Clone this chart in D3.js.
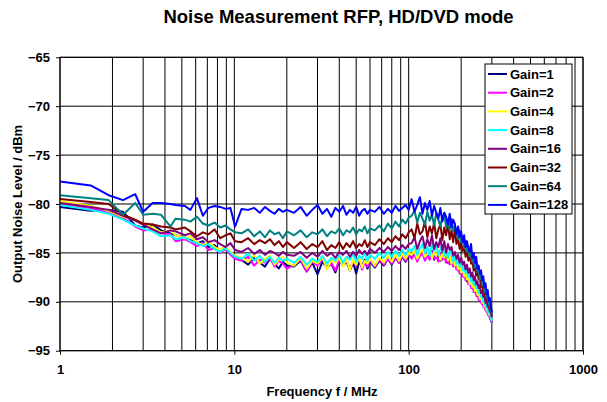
<!DOCTYPE html>
<html>
<head>
<meta charset="utf-8">
<script src="https://cdn.jsdelivr.net/npm/d3@7"></script>
<style>
    body { margin: 0; background: #fff; }
    text { font-family: "Liberation Sans", Arial, sans-serif; font-weight: bold; fill: #000; }
</style>
</head>
<body>
<svg id="chart" width="607" height="402"></svg>
<script>
    // frequency grid (MHz)
    var freq = [1, 1.5, 1.9, 2.3, 2.7, 3.0, 3.4, 3.8, 4.3, 4.6, 5.2, 5.6, 6.1, 6.6, 7.1, 7.7, 8.3, 8.9, 9.5, 10.1,
        11, 12, 13, 14, 15, 16, 17, 18, 19, 20,
        22, 24, 26, 28, 30, 32, 34, 36, 38, 40, 42, 44, 46, 48, 50, 52, 54, 56, 58, 60,
        64, 68, 72, 76, 80, 84, 88, 92, 96, 100,
        104, 108, 112, 116, 120, 124, 128, 132, 136, 140, 144, 148, 152, 156, 160, 164, 168, 172, 176, 180,
        184, 188, 192, 196, 200, 204, 208, 212, 216, 220, 224, 228, 232, 236, 240, 244, 248, 252, 256, 260,
        264, 268, 272, 276, 280, 284, 288, 292, 296, 300];

    var gain1 = [-80.3, -80.7, -80.6, -80.8, -82.2, -82.4, -82.1, -82.7, -83.0, -83.2, -83.5, -83.7, -84.0, -83.8, -84.4, -84.2, -84.8, -84.5, -85.1, -85.5,
        -85.7, -86.2, -85.5, -86.0, -86.4, -85.6, -86.1, -86.6, -85.9, -86.3,
        -86.4, -85.8, -86.9, -86.0, -87.2, -85.9, -86.5, -86.1, -87.0, -85.8, -86.3, -85.9, -86.8, -86.0, -87.1, -85.9, -86.4, -85.7, -86.6, -85.9,
        -86.5, -85.8, -86.3, -85.6, -86.2, -85.5, -86.0, -85.4, -85.9, -85.3,
        -85.4, -85.0, -85.7, -85.2, -84.9, -85.6, -85.0, -85.5, -84.8, -85.7, -85.1, -85.4, -85.8, -85.0, -85.6, -85.3, -86.0, -85.4, -86.1, -85.7,
        -86.3, -86.0, -86.8, -86.2, -87.1, -86.7, -87.5, -87.0, -87.9, -87.4, -88.2, -87.9, -88.6, -88.3, -89.0, -88.7, -89.4, -89.1, -89.8, -89.5,
        -90.2, -89.9, -90.6, -90.3, -91.0, -90.7, -91.4, -91.2, -91.8, -92.1];

    var gain2 = [-80.0, -80.4, -80.9, -81.4, -82.3, -82.7, -82.6, -83.0, -83.1, -83.8, -83.6, -83.9, -84.3, -84.0, -84.7, -84.5, -85.0, -84.6, -85.2, -85.6,
        -85.8, -85.4, -86.3, -85.7, -86.0, -85.5, -86.4, -85.8, -86.1, -86.6,
        -86.2, -85.7, -86.9, -85.9, -86.3, -85.6, -86.5, -86.0, -86.8, -85.7, -86.2, -85.8, -86.6, -85.9, -86.3, -85.5, -86.7, -86.0, -86.4, -85.8,
        -86.4, -85.7, -86.2, -85.6, -86.1, -85.4, -86.0, -85.3, -85.8, -85.2,
        -85.6, -85.1, -85.9, -85.3, -85.0, -85.8, -85.2, -85.7, -84.9, -85.6, -85.3, -85.9, -85.1, -85.7, -85.4, -86.0, -85.5, -86.2, -85.7, -86.4,
        -86.0, -86.7, -86.3, -87.1, -86.6, -87.4, -87.0, -87.8, -87.4, -88.2, -87.8, -88.6, -88.2, -89.0, -88.6, -89.4, -89.0, -89.8, -89.4, -90.1,
        -89.8, -90.5, -90.2, -90.9, -90.6, -91.3, -91.0, -91.7, -91.9, -92.1];

    var gain4 = [-79.7, -80.2, -80.7, -81.3, -81.6, -82.0, -82.4, -82.9, -82.7, -83.2, -83.5, -83.3, -83.9, -84.2, -83.8, -84.4, -84.7, -84.3, -84.9, -85.3,
        -85.5, -85.9, -85.2, -86.1, -85.6, -85.3, -86.2, -85.7, -85.4, -86.0,
        -86.3, -85.5, -86.6, -85.8, -86.1, -85.4, -86.7, -85.7, -86.0, -85.5, -86.4, -85.6, -86.8, -85.7, -86.2, -85.4, -86.5, -85.8, -86.1, -85.6,
        -86.3, -85.5, -86.0, -85.3, -85.9, -85.2, -85.8, -85.1, -85.6, -85.0,
        -85.2, -84.8, -85.6, -85.0, -84.7, -85.4, -85.1, -84.6, -85.5, -84.9, -85.3, -84.8, -85.7, -85.1, -85.5, -84.9, -85.8, -85.3, -86.1, -85.6,
        -86.3, -85.9, -86.7, -86.2, -87.0, -86.5, -87.4, -86.9, -87.7, -87.3, -88.2, -87.7, -88.5, -88.1, -88.9, -88.5, -89.3, -88.9, -89.7, -89.3,
        -90.1, -89.7, -90.5, -90.1, -90.9, -90.6, -91.3, -91.0, -91.7, -91.6];

    var gain8 = [-80.1, -80.6, -81.0, -81.6, -82.2, -82.5, -82.8, -83.3, -83.2, -83.6, -83.4, -83.8, -84.0, -84.3, -84.1, -84.6, -84.9, -84.5, -85.0, -85.4,
        -85.6, -85.1, -85.8, -85.3, -85.9, -85.4, -86.0, -85.5, -85.8, -85.6,
        -86.0, -85.4, -86.2, -85.6, -85.9, -85.3, -86.1, -85.5, -85.8, -85.2, -86.0, -85.4, -85.7, -85.1, -85.9, -85.3, -85.6, -85.0, -85.8, -85.2,
        -85.6, -85.0, -85.5, -84.9, -85.4, -84.8, -85.3, -84.7, -85.2, -84.6,
        -84.8, -84.3, -85.2, -84.5, -84.1, -85.0, -84.4, -85.3, -84.0, -84.8, -84.3, -85.2, -84.6, -84.2, -85.3, -84.6, -85.5, -84.8, -85.2, -85.9,
        -85.3, -86.1, -85.6, -86.4, -86.0, -86.8, -86.3, -87.1, -86.7, -87.5, -87.1, -87.9, -87.5, -88.3, -87.9, -88.6, -88.3, -89.1, -88.8, -89.5,
        -89.3, -90.0, -89.8, -90.5, -90.3, -91.0, -90.8, -91.4, -91.5, -92.0];

    var gain16 = [-79.9, -80.3, -80.6, -81.2, -81.7, -82.1, -82.6, -83.0, -82.7, -82.8, -83.2, -83.0, -83.6, -83.4, -83.9, -83.7, -84.1, -84.4, -84.0, -84.7,
        -84.9, -84.5, -85.1, -84.7, -85.2, -84.8, -85.0, -85.3, -84.9, -85.2,
        -85.3, -84.9, -85.5, -85.0, -85.4, -84.8, -85.3, -85.0, -85.5, -84.9, -85.2, -84.8, -85.4, -84.9, -85.3, -84.7, -85.1, -84.8, -85.2, -84.6,
        -85.0, -84.5, -84.9, -84.4, -84.8, -84.3, -84.7, -84.2, -84.6, -84.1,
        -84.0, -83.4, -84.6, -83.8, -83.3, -84.5, -83.6, -84.3, -83.2, -84.6, -83.9, -84.4, -83.5, -84.8, -83.8, -85.0, -84.1, -84.7, -84.4, -85.3,
        -84.9, -85.6, -85.2, -86.0, -85.5, -86.2, -85.9, -86.7, -86.2, -87.0, -86.6, -87.4, -87.0, -87.8, -87.4, -88.2, -87.9, -88.6, -88.3, -89.1,
        -88.9, -89.5, -89.3, -90.1, -89.8, -90.5, -90.3, -91.0, -91.1, -91.6];

    var gain32 = [-79.5, -79.8, -80.0, -81.1, -81.6, -82.0, -82.1, -82.3, -82.4, -82.6, -82.4, -82.8, -83.3, -82.9, -83.1, -82.6, -83.5, -83.2, -83.0, -83.8,
        -83.9, -83.5, -84.1, -83.7, -84.0, -83.6, -84.2, -83.8, -84.4, -83.9,
        -84.5, -83.9, -84.6, -84.1, -84.4, -83.8, -84.7, -84.2, -84.5, -83.9, -84.6, -84.0, -84.4, -83.8, -84.5, -84.1, -84.3, -83.7, -84.4, -83.9,
        -84.2, -83.6, -84.1, -83.5, -83.9, -83.3, -83.7, -83.1, -83.5, -82.9,
        -82.6, -83.5, -82.0, -83.1, -82.8, -81.8, -83.4, -82.3, -83.0, -81.9, -83.5, -82.6, -82.1, -83.7, -82.4, -83.2, -82.0, -83.6, -82.7, -83.9,
        -82.6, -84.1, -83.4, -84.6, -84.0, -84.8, -84.3, -85.4, -84.7, -85.8, -85.3, -86.1, -85.8, -86.8, -86.3, -87.3, -86.9, -87.7, -87.5, -88.5,
        -88.0, -89.1, -88.7, -89.6, -89.4, -90.3, -90.0, -90.8, -90.6, -91.4];

    var gain64 = [-79.1, -79.4, -79.6, -81.1, -79.9, -81.1, -81.0, -81.1, -82.3, -81.5, -81.6, -81.8, -81.3, -82.0, -82.2, -81.9, -82.4, -82.2, -82.6, -82.9,
        -83.0, -82.6, -83.3, -82.8, -83.4, -82.7, -83.1, -82.9, -83.5, -82.8,
        -83.2, -82.7, -83.4, -82.9, -83.1, -82.6, -83.3, -82.8, -83.0, -82.5, -83.2, -82.7, -82.9, -82.4, -83.1, -82.6, -82.8, -82.3, -83.0, -82.5,
        -82.7, -82.2, -82.8, -82.0, -82.5, -81.8, -82.3, -81.6, -82.0, -81.4,
        -81.2, -80.7, -81.9, -80.9, -81.5, -82.1, -80.8, -81.7, -81.1, -82.2, -80.9, -81.6, -82.3, -81.3, -81.0, -82.4, -81.7, -82.6, -81.5, -82.8,
        -82.2, -83.0, -83.6, -82.7, -83.9, -83.4, -84.5, -83.8, -84.9, -84.3, -85.4, -85.0, -85.9, -85.5, -86.5, -86.1, -87.0, -86.6, -87.7, -87.3,
        -88.3, -87.9, -89.0, -88.6, -89.6, -89.3, -90.3, -89.9, -90.9, -91.3];

    var gain128 = [-77.7, -78.1, -79.1, -79.6, -79.0, -80.8, -79.9, -79.9, -80.0, -80.1, -80.2, -80.6, -79.4, -81.2, -80.4, -80.2, -80.3, -80.5, -80.4, -82.3,
        -80.5, -80.6, -80.4, -80.9, -80.3, -80.7, -81.0, -80.5, -80.8, -80.6,
        -80.9, -80.3, -81.2, -80.6, -80.1, -81.0, -80.5, -81.3, -80.4, -80.8, -80.2, -81.1, -80.6, -80.9, -80.3, -81.2, -80.7, -80.5, -81.0, -80.6,
        -80.8, -80.3, -81.0, -80.5, -80.9, -80.2, -80.7, -80.4, -80.1, -80.6,
        -79.5, -80.8, -80.1, -79.3, -81.0, -79.9, -80.6, -79.7, -81.2, -80.2, -80.9, -81.5, -80.4, -81.8, -80.9, -81.3, -82.1, -81.0, -82.4, -81.6,
        -82.0, -83.1, -82.3, -83.4, -82.8, -83.9, -83.2, -84.4, -83.8, -84.6, -84.9, -84.1, -85.5, -85.0, -86.0, -85.4, -86.6, -86.3, -87.1, -86.8,
        -87.8, -87.4, -88.5, -88.1, -89.2, -88.8, -89.9, -89.6, -90.4, -91.1];

    var seriesNames = ["Gain=1", "Gain=2", "Gain=4", "Gain=8", "Gain=16", "Gain=32", "Gain=64", "Gain=128"];
    var seriesValues = [gain1, gain2, gain4, gain8, gain16, gain32, gain64, gain128];
    var seriesColors = ["#000080", "#ff00ff", "#ffff00", "#00ffff", "#800080", "#800000", "#008080", "#0000ff"];

    var yTicks = [-95, -90, -85, -80, -75, -70, -65];
    var xTicks = [1, 10, 100, 1000];

    var plotL = 60, plotR = 583, plotT = 57.3, plotB = 350.7;

    var svg = d3.select('#chart');

    var x = d3.scaleLog().domain([1, 1000]).range([plotL, plotR]);
    var y = d3.scaleLinear().domain([-95, -65]).range([plotB, plotT]);

    // title
    svg.append("text")
        .attr("x", 338.5).attr("y", 22.7)
        .attr("text-anchor", "middle")
        .style("font-size", "18.5px")
        .text("Noise Measurement RFP, HD/DVD mode");

    // grid: every 1-9 step of each decade vertically, every 5 dB horizontally
    var minor = [];
    [1, 10, 100].forEach(function (dec) {
        for (var k = 1; k < 10; k++) minor.push(dec * k);
    });
    minor.push(1000);

    var grid = svg.append("g").attr("stroke", "#000").attr("stroke-width", 1);
    grid.selectAll("line.v").data(minor).enter().append("line")
        .attr("x1", function (d) { return x(d); })
        .attr("x2", function (d) { return x(d); })
        .attr("y1", plotT).attr("y2", plotB);
    grid.selectAll("line.h").data(yTicks).enter().append("line")
        .attr("x1", plotL).attr("x2", plotR)
        .attr("y1", function (d) { return y(d); })
        .attr("y2", function (d) { return y(d); });

    // axes
    var yAxis = d3.axisLeft(y).tickValues(yTicks).tickSize(4).tickPadding(6).tickFormat(d3.format("d"));
    var gy = svg.append("g").attr("transform", "translate(" + plotL + ",0)").call(yAxis);
    gy.select(".domain").remove();
    gy.attr("font-family", null).attr("font-size", null);
    gy.selectAll("text").style("font-size", "13px");
    gy.selectAll("line").attr("stroke", "#000");

    var xAxis = d3.axisBottom(x).tickValues(xTicks).tickSize(4).tickPadding(10).tickFormat(d3.format("d"));
    var gx = svg.append("g").attr("transform", "translate(0," + plotB + ")").call(xAxis);
    gx.select(".domain").remove();
    gx.attr("font-family", null).attr("font-size", null);
    gx.selectAll("text").style("font-size", "13px");
    gx.selectAll("line").attr("stroke", "#000");

    // axis titles
    svg.append("text")
        .attr("x", 322).attr("y", 396)
        .attr("text-anchor", "middle")
        .style("font-size", "13px")
        .text("Frequency f / MHz");
    svg.append("text")
        .attr("transform", "translate(22,204) rotate(-90)")
        .attr("text-anchor", "middle")
        .style("font-size", "13px")
        .text("Output Noise Level / dBm");

    // series, Gain=1 drawn first, Gain=128 on top
    var line = d3.line()
        .x(function (d, i) { return x(freq[i]); })
        .y(function (d) { return y(d); });

    svg.append("g").selectAll("path").data(seriesValues).enter().append("path")
        .attr("d", line)
        .attr("fill", "none")
        .attr("stroke", function (d, i) { return seriesColors[i]; })
        .attr("stroke-width", 2)
        .attr("stroke-linejoin", "round");

    // plot frame
    svg.append("rect")
        .attr("x", plotL).attr("y", plotT)
        .attr("width", plotR - plotL).attr("height", plotB - plotT)
        .attr("fill", "none").attr("stroke", "#000").attr("stroke-width", 1);

    // legend
    var lg = svg.append("g").attr("transform", "translate(485,64)");
    lg.append("rect")
        .attr("width", 87).attr("height", 150)
        .attr("fill", "#fff").attr("stroke", "#000").attr("stroke-width", 1);
    var rows = lg.selectAll("g").data(seriesNames).enter().append("g")
        .attr("transform", function (d, i) { return "translate(0," + (10 + i * 18.7) + ")"; });
    rows.append("line")
        .attr("x1", 3).attr("x2", 22)
        .attr("stroke", function (d, i) { return seriesColors[i]; })
        .attr("stroke-width", 2);
    rows.append("text")
        .attr("x", 25).attr("y", 4.5)
        .style("font-size", "13px")
        .text(function (d) { return d; });
</script>
</body>
</html>
